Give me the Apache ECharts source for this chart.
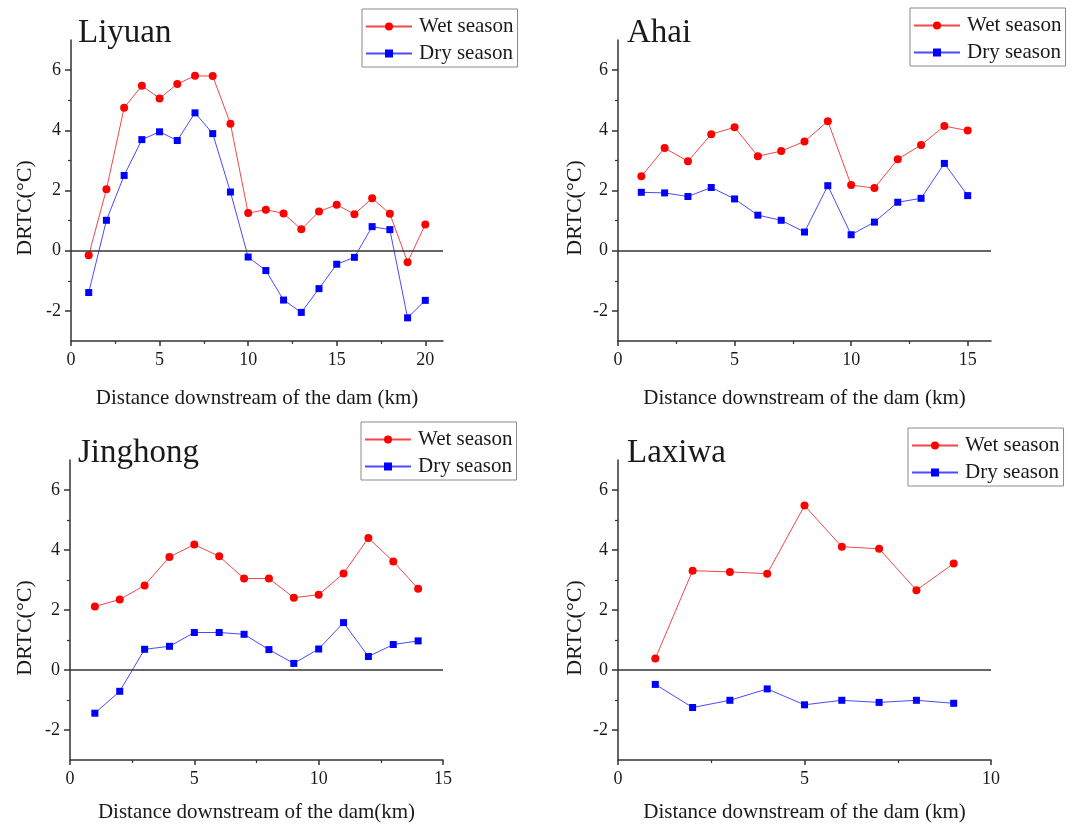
<!DOCTYPE html>
<html>
<head>
<meta charset="utf-8">
<script src="https://cdn.jsdelivr.net/npm/echarts@6/dist/echarts.min.js"></script>
<style>
html,body{margin:0;padding:0;background:#fff;}
#chart{width:1078px;height:824px;}
</style>
</head>
<body>
<div id="chart"></div>
<script>
// ---- Data ----
const liyuanKm  = [1,2,3,4,5,6,7,8,9,10,11,12,13,14,15,16,17,18,19,20];
const liyuanWet = [-0.15,2.04,4.75,5.48,5.06,5.54,5.81,5.80,4.22,1.25,1.36,1.24,0.71,1.30,1.53,1.21,1.74,1.23,-0.38,0.87];
const liyuanDry = [-1.39,1.01,2.50,3.69,3.95,3.66,4.58,3.89,1.95,-0.21,-0.66,-1.64,-2.05,-1.26,-0.45,-0.22,0.80,0.70,-2.23,-1.65];

const ahaiKm  = [1,2,3,4,5,6,7,8,9,10,11,12,13,14,15];
const ahaiWet = [2.47,3.41,2.97,3.87,4.10,3.14,3.31,3.63,4.30,2.18,2.08,3.04,3.51,4.14,3.99];
const ahaiDry = [1.94,1.92,1.80,2.10,1.72,1.18,1.01,0.62,2.16,0.53,0.95,1.61,1.74,2.90,1.83];

const jinghongKm  = [1,2,3,4,5,6,7,8,9,10,11,12,13,14];
const jinghongWet = [2.12,2.35,2.82,3.77,4.18,3.79,3.05,3.05,2.41,2.51,3.22,4.40,3.62,2.71];
const jinghongDry = [-1.44,-0.71,0.69,0.79,1.25,1.25,1.19,0.68,0.22,0.70,1.58,0.45,0.85,0.97];

const laxiwaKm  = [1,2,3,4,5,6,7,8,9];
const laxiwaWet = [0.38,3.31,3.27,3.21,5.48,4.11,4.04,2.66,3.55];
const laxiwaDry = [-0.48,-1.25,-1.01,-0.63,-1.16,-1.01,-1.08,-1.01,-1.11];

const panelNames = ['Liyuan','Ahai','Jinghong','Laxiwa'];
const seriesNames = ['Wet season','Dry season'];
const yTitle = 'DRTC(°C)';
const xTitles = ['Distance downstream of the dam (km)','Distance downstream of the dam (km)','Distance downstream of the dam(km)','Distance downstream of the dam (km)'];

const yMin = -3, yMax = 7;
const yTicks = [-2,0,2,4,6];
const yMinorTicks = [-1,1,3,5];
const xMaxes = [21,16,15,10];
const xTicksList = [[0,5,10,15,20],[0,5,10,15],[0,5,10,15],[0,5,10]];
const xMinorList = [[2.5,7.5,12.5,17.5],[2.5,7.5,12.5],[2.5,7.5,12.5],[2.5,7.5]];

const panels = [
  {km: liyuanKm, wet: liyuanWet, dry: liyuanDry},
  {km: ahaiKm, wet: ahaiWet, dry: ahaiDry},
  {km: jinghongKm, wet: jinghongWet, dry: jinghongDry},
  {km: laxiwaKm, wet: laxiwaWet, dry: laxiwaDry}
];

// ---- Layout ----
const FONT = '"Liberation Serif","DejaVu Serif",serif';
const TXT = '#1a1a1a';
const AX = '#333333';
const grids = [
  {left: 71, top: 40, width: 372, height: 301},
  {left: 618, top: 40, width: 373, height: 301},
  {left: 70, top: 460, width: 373, height: 302},
  {left: 618, top: 460, width: 373, height: 302}
];
const legendPos = [
  {left: 362, top: 9},
  {left: 910, top: 8},
  {left: 361, top: 422},
  {left: 908, top: 428}
];
const titlePos = [
  {left: 78, top: 17},
  {left: 627, top: 17},
  {left: 78, top: 437},
  {left: 627, top: 437}
];
const xNameGap = [47, 47, 42, 42];
const yTitlePos = [
  {x: 25, y: 208},
  {x: 575, y: 208},
  {x: 25, y: 628},
  {x: 575, y: 628}
];

const option = {
  backgroundColor: '#ffffff',
  animation: false,
  title: [], grid: [], xAxis: [], yAxis: [], series: [], legend: [], graphic: []
};

panels.forEach((p, i) => {
  option.grid.push(Object.assign({containLabel: false}, grids[i]));
  option.title.push({
    text: panelNames[i], left: titlePos[i].left, top: titlePos[i].top, padding: 0,
    textStyle: {fontFamily: FONT, fontSize: 33, fontWeight: 'normal', color: TXT}
  });
  // main x axis
  option.xAxis.push({
    type: 'value', gridIndex: i, min: 0, max: xMaxes[i], position: 'bottom',
    name: xTitles[i], nameLocation: 'middle', nameGap: xNameGap[i],
    nameTextStyle: {fontFamily: FONT, fontSize: 21, color: TXT},
    axisLine: {show: true, onZero: false, lineStyle: {color: AX, width: 1.5}},
    axisTick: {show: true, inside: false, length: 5, customValues: xTicksList[i], lineStyle: {color: AX, width: 1.5}},
    axisLabel: {show: true, customValues: xTicksList[i], margin: 10, fontFamily: FONT, fontSize: 18, color: TXT},
    splitLine: {show: false}
  });
  // minor x axis
  option.xAxis.push({
    type: 'value', gridIndex: i, min: 0, max: xMaxes[i], position: 'bottom',
    axisLine: {show: false, onZero: false},
    axisTick: {show: true, inside: false, length: 3, customValues: xMinorList[i], lineStyle: {color: AX, width: 1.2}},
    axisLabel: {show: false},
    splitLine: {show: false}
  });
  // main y axis
  option.yAxis.push({
    type: 'value', gridIndex: i, min: yMin, max: yMax, position: 'left',
    axisLine: {show: true, onZero: false, lineStyle: {color: AX, width: 1.5}},
    axisTick: {show: true, inside: false, length: 6, customValues: yTicks, lineStyle: {color: AX, width: 1.5}},
    axisLabel: {show: true, customValues: yTicks, margin: 10, fontFamily: FONT, fontSize: 18, color: TXT},
    splitLine: {show: false}
  });
  // minor y axis
  option.yAxis.push({
    type: 'value', gridIndex: i, min: yMin, max: yMax, position: 'left',
    axisLine: {show: false, onZero: false},
    axisTick: {show: true, inside: false, length: 3, customValues: yMinorTicks, lineStyle: {color: AX, width: 1.2}},
    axisLabel: {show: false},
    splitLine: {show: false}
  });

  const xi = i * 2, yi = i * 2;
  option.series.push({
    name: seriesNames[0], type: 'line', xAxisIndex: xi, yAxisIndex: yi,
    data: p.km.map((k, j) => [k, p.wet[j]]),
    symbol: 'circle', symbolSize: 8,
    itemStyle: {color: '#ff0000'},
    lineStyle: {color: '#f04848', width: 1},
    markLine: {
      silent: true, symbol: 'none', label: {show: false},
      lineStyle: {color: '#333', width: 1.5, type: 'solid'},
      data: [{yAxis: 0}]
    },
    z: 3
  });
  option.series.push({
    name: seriesNames[1], type: 'line', xAxisIndex: xi, yAxisIndex: yi,
    data: p.km.map((k, j) => [k, p.dry[j]]),
    symbol: 'rect', symbolSize: 7,
    itemStyle: {color: '#0000ff'},
    lineStyle: {color: '#4a4aff', width: 1},
    z: 3
  });

  option.legend.push({
    data: seriesNames,
    left: legendPos[i].left, top: legendPos[i].top,
    orient: 'vertical',
    itemWidth: 46, itemHeight: 10, itemGap: 6,
    padding: [7, 4, 3, 3],
    borderColor: '#8a8a8a', borderWidth: 1,
    selectedMode: false,
    textStyle: {fontFamily: FONT, fontSize: 21, color: TXT, padding: [0, 0, 0, 2]}
  });

  option.graphic.push({
    type: 'text', x: yTitlePos[i].x, y: yTitlePos[i].y, rotation: Math.PI / 2,
    style: {text: yTitle, fontFamily: FONT, fontSize: 22, fill: TXT, align: 'center', verticalAlign: 'middle'}
  });
});

const chart = echarts.init(document.getElementById('chart'), null, {renderer: 'canvas'});
chart.setOption(option);
</script>
</body>
</html>
